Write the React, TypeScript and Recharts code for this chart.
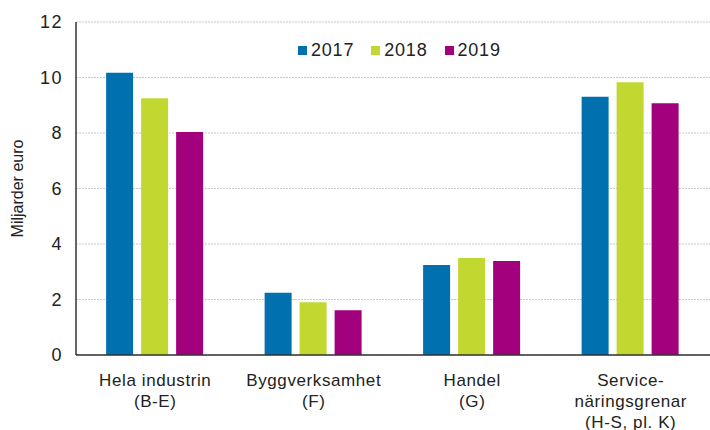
import { BarChart, Bar, XAxis, YAxis, CartesianGrid, Legend } from "recharts";

const categories = [
  ["Hela industrin", "(B-E)"],
  ["Byggverksamhet", "(F)"],
  ["Handel", "(G)"],
  ["Service-", "näringsgrenar", "(H-S, pl. K)"],
];
const years = ["2017", "2018", "2019"];
const values2017 = [10.17, 2.24, 3.24, 9.31];
const values2018 = [9.25, 1.9, 3.5, 9.83];
const values2019 = [8.04, 1.61, 3.39, 9.07];
const yTicks = [0, 2, 4, 6, 8, 10, 12];
const colors = ["#0070ae", "#c2d72f", "#a3007e"];

const data = categories.map((c, i) => ({
  name: c.join("\n"),
  "2017": values2017[i],
  "2018": values2018[i],
  "2019": values2019[i],
}));

const font = "'Liberation Sans', Arial, sans-serif";

function CategoryTick(props: any) {
  const { x, y, payload } = props;
  const lines = String(payload.value).split("\n");
  return (
    <text x={x} y={y} textAnchor="middle" fill="#222" fontSize={17} letterSpacing={0.6} fontFamily={font}>
      {lines.map((l, i) => (
        <tspan key={i} x={x} dy={i === 0 ? 23 : 21}>
          {l}
        </tspan>
      ))}
    </text>
  );
}

function YearLegend(props: any) {
  const { payload } = props;
  return (
    <div style={{ display: "flex", fontFamily: font, fontSize: 18, letterSpacing: 0.8, color: "#222" }}>
      {payload.map((p: any) => (
        <div key={p.value} style={{ display: "flex", alignItems: "center", marginRight: 17 }}>
          <span style={{ width: 9, height: 9, background: p.color, marginRight: 4, display: "inline-block" }} />
          <span>{p.value}</span>
        </div>
      ))}
    </div>
  );
}

export default function App() {
  return (
    <div style={{ position: "absolute", left: 0, top: 0, background: "#fff" }}>
      <BarChart
        width={710}
        height={430}
        data={data}
        margin={{ top: 22, right: 0, left: 0, bottom: 0 }}
        barCategoryGap="19%"
        barGap={8}
      >
        <CartesianGrid vertical={false} stroke="#c8c8c8" strokeDasharray="2 1" />
        <XAxis
          dataKey="name"
          height={75}
          interval={0}
          tickLine={false}
          axisLine={{ stroke: "#333", strokeWidth: 1.5 }}
          tick={<CategoryTick />}
        />
        <YAxis
          width={76}
          domain={[0, 12]}
          ticks={yTicks}
          tickLine={false}
          tickSize={0}
          tickMargin={13}
          axisLine={{ stroke: "#333", strokeWidth: 1.5 }}
          tick={{ fill: "#222", fontSize: 18, letterSpacing: 1.5, fontFamily: font }}
          label={{
            value: "Miljarder euro",
            angle: -90,
            position: "insideLeft",
            offset: 17,
            style: { textAnchor: "middle", fill: "#222", fontSize: 16, fontFamily: font },
          }}
        />
        <Legend
          layout="horizontal"
          verticalAlign="middle"
          align="center"
          content={<YearLegend />}
          wrapperStyle={{ top: 40, left: 298, width: 240 }}
        />
        {years.map((y, i) => (
          <Bar key={y} dataKey={y} fill={colors[i]} isAnimationActive={false} />
        ))}
      </BarChart>
    </div>
  );
}
